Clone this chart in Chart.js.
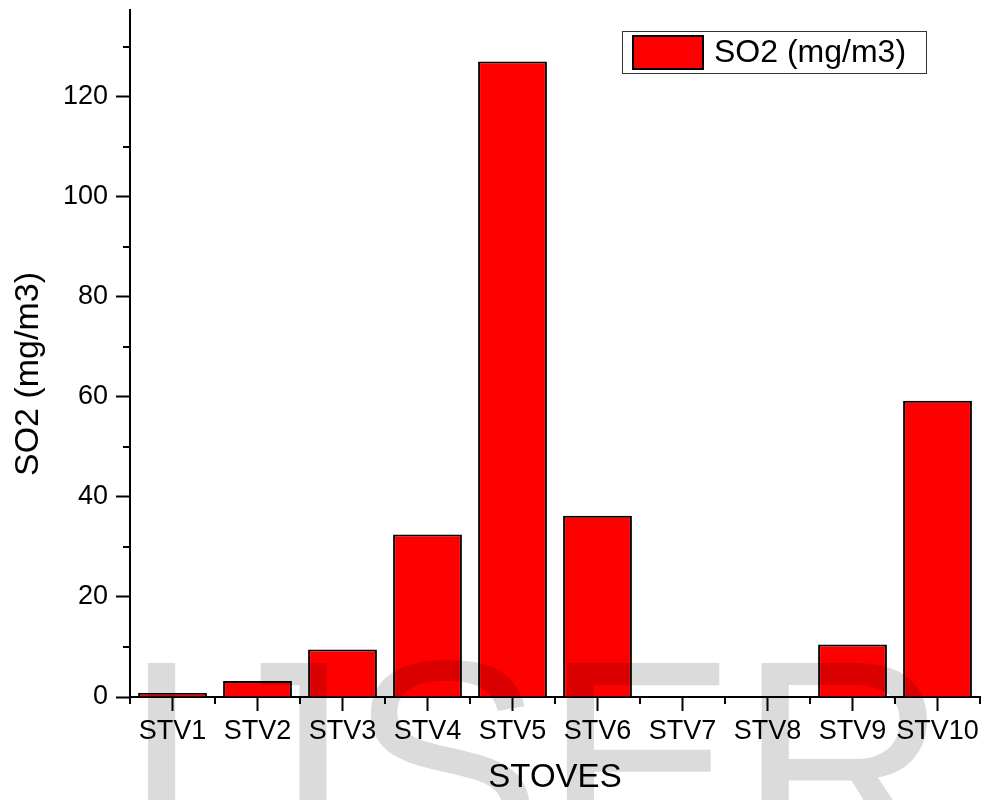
<!DOCTYPE html>
<html>
<head>
<meta charset="utf-8">
<script src="https://cdn.jsdelivr.net/npm/chart.js@4/dist/chart.umd.min.js"></script>
<style>
html,body{margin:0;padding:0;background:#fff;}
#wrap{width:985px;height:800px;position:relative;}
</style>
</head>
<body>
<div id="wrap"><canvas id="c" width="985" height="800"></canvas></div>
<script>
// ---- data ----
const categories = ['STV1','STV2','STV3','STV4','STV5','STV6','STV7','STV8','STV9','STV10'];
const so2Values = [0.8, 3.2, 9.5, 32.5, 127.0, 36.2, 0, 0, 10.5, 59.2];
const yTickLabels = [0, 20, 40, 60, 80, 100, 120];
const seriesLabel = 'SO2 (mg/m3)';
const xTitle = 'STOVES';
const yTitle = 'SO2 (mg/m3)';
const watermarkText = 'IJSER';

const FONT = "'Liberation Sans', Arial, Helvetica, sans-serif";

const decorPlugin = {
  id: 'decor',
  afterDraw(chart) {
    const ctx = chart.ctx;
    const xs = chart.scales.x, ys = chart.scales.y;
    const ca = chart.chartArea;
    ctx.save();
    ctx.strokeStyle = '#000';
    ctx.lineWidth = 2;
    // minor y ticks
    ys.ticks.forEach(t => {
      if (t.value % 10 === 0 && !yTickLabels.includes(t.value)) {
        const py = Math.round(ys.getPixelForValue(t.value));
        ctx.beginPath(); ctx.moveTo(ca.left - 7, py); ctx.lineTo(ca.left, py); ctx.stroke();
      }
    });
    // minor x ticks at category boundaries
    const half = (xs.getPixelForValue(1) - xs.getPixelForValue(0)) / 2;
    for (let i = 0; i <= categories.length; i++) {
      const px = i < categories.length ? xs.getPixelForValue(i) - half : xs.getPixelForValue(categories.length - 1) + half;
      const rx = Math.round(px);
      ctx.beginPath(); ctx.moveTo(rx, ca.bottom); ctx.lineTo(rx, ca.bottom + 7); ctx.stroke();
    }
    // y title
    ctx.fillStyle = '#000';
    ctx.font = `34px ${FONT}`;
    ctx.textAlign = 'center';
    ctx.textBaseline = 'middle';
    ctx.translate(29, 374);
    ctx.rotate(-Math.PI / 2);
    ctx.fillText(yTitle, 0, 0);
    ctx.restore();

    // legend
    ctx.save();
    const ds = chart.data.datasets[0];
    const bx = ca.right - 358, by = ca.top + 21, bw = 304, bh = 42;
    ctx.fillStyle = '#fff';
    ctx.fillRect(bx, by, bw, bh);
    ctx.strokeStyle = '#333';
    ctx.lineWidth = 1;
    ctx.strokeRect(bx + 0.5, by + 0.5, bw, bh);
    ctx.fillStyle = ds.backgroundColor;
    ctx.fillRect(bx + 10, by + 4, 72, 35);
    ctx.strokeStyle = '#000';
    ctx.lineWidth = 2;
    ctx.strokeRect(bx + 11, by + 5, 70, 33);
    ctx.fillStyle = '#000';
    ctx.font = `32px ${FONT}`;
    ctx.textAlign = 'left';
    ctx.textBaseline = 'middle';
    ctx.fillText(ds.label, bx + 92, by + bh / 2 + 1);
    ctx.restore();

    // watermark
    ctx.save();
    ctx.fillStyle = 'rgba(0,0,0,0.14)';
    ctx.font = `292px ${FONT}`;
    ctx.textAlign = 'left';
    ctx.textBaseline = 'alphabetic';
    ctx.fillText(watermarkText, 121, 864);
    ctx.restore();
  }
};

new Chart(document.getElementById('c'), {
  type: 'bar',
  data: {
    labels: categories,
    datasets: [{
      label: seriesLabel,
      data: so2Values,
      backgroundColor: '#ff0000',
      borderColor: '#000',
      borderWidth: 2,
      borderSkipped: 'start',
      barPercentage: 0.81,
      categoryPercentage: 1.0
    }]
  },
  options: {
    responsive: false,
    animation: false,
    devicePixelRatio: 1,
    layout: { padding: { top: 10, right: 5, left: 0, bottom: 0 } },
    plugins: {
      legend: { display: false },
      tooltip: { enabled: false }
    },
    scales: {
      x: {
        offset: true,
        grid: {
          display: true, drawOnChartArea: false, drawTicks: true,
          tickLength: 14, tickWidth: 2, tickColor: '#000', offset: false
        },
        border: { display: true, color: '#000', width: 2 },
        ticks: {
          color: '#000', font: { size: 27, family: FONT }, padding: 4,
          maxRotation: 0, autoSkip: false
        },
        title: {
          display: true, text: xTitle, color: '#000',
          font: { size: 33, family: FONT }, padding: { top: 0, bottom: 2 }
        },
        afterFit(scale) { scale.height = 103; scale.paddingLeft = 0; scale.paddingRight = 0; }
      },
      y: {
        min: 0, max: 137.3,
        grid: {
          display: true, drawOnChartArea: false, drawTicks: true,
          tickLength: 14, tickWidth: 2,
          tickColor: (c) => (c.tick && yTickLabels.includes(c.tick.value)) ? '#000' : 'rgba(0,0,0,0)'
        },
        border: { display: true, color: '#000', width: 2 },
        ticks: {
          stepSize: 10, autoSkip: false, color: '#000', padding: 8,
          font: { size: 27, family: FONT },
          callback: (v) => yTickLabels.includes(v) ? String(v) : ''
        },
        afterFit(scale) { scale.width = 130; scale.paddingTop = 0; scale.paddingBottom = 0; }
      }
    }
  },
  plugins: [decorPlugin]
});
</script>
</body>
</html>
